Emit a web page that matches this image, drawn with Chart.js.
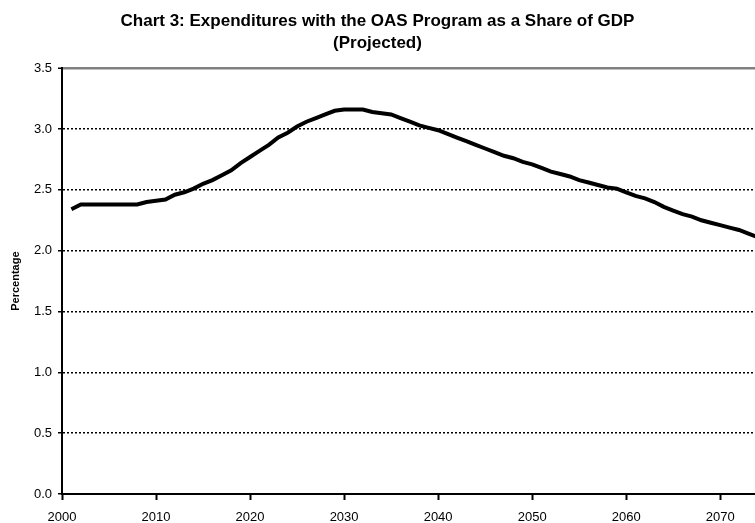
<!DOCTYPE html>
<html>
<head>
<meta charset="utf-8">
<script src="https://cdn.jsdelivr.net/npm/chart.js@4.4.1/dist/chart.umd.min.js"></script>
<style>
  html, body { margin: 0; padding: 0; background: #fff; }
  #wrap { width: 755px; height: 523px; }
</style>
</head>
<body>
<div id="wrap"><canvas id="grafico"></canvas></div>
<script>
// years and OAS expenditure as % of GDP
let anos = [2001, 2002, 2003, 2004, 2005, 2006, 2007, 2008, 2009, 2010,
  2011, 2012, 2013, 2014, 2015, 2016, 2017, 2018, 2019, 2020,
  2021, 2022, 2023, 2024, 2025, 2026, 2027, 2028, 2029, 2030,
  2031, 2032, 2033, 2034, 2035, 2036, 2037, 2038, 2039, 2040,
  2041, 2042, 2043, 2044, 2045, 2046, 2047, 2048, 2049, 2050,
  2051, 2052, 2053, 2054, 2055, 2056, 2057, 2058, 2059, 2060,
  2061, 2062, 2063, 2064, 2065, 2066, 2067, 2068, 2069, 2070,
  2071, 2072, 2073, 2074];
let percentual = [2.34, 2.38, 2.38, 2.38, 2.38, 2.38, 2.38, 2.38, 2.40, 2.41,
  2.42, 2.46, 2.48, 2.51, 2.55, 2.58, 2.62, 2.66, 2.72, 2.77,
  2.82, 2.87, 2.93, 2.97, 3.02, 3.06, 3.09, 3.12, 3.15, 3.16,
  3.16, 3.16, 3.14, 3.13, 3.12, 3.09, 3.06, 3.03, 3.01, 2.99,
  2.96, 2.93, 2.90, 2.87, 2.84, 2.81, 2.78, 2.76, 2.73, 2.71,
  2.68, 2.65, 2.63, 2.61, 2.58, 2.56, 2.54, 2.52, 2.51, 2.48,
  2.45, 2.43, 2.40, 2.36, 2.33, 2.30, 2.28, 2.25, 2.23, 2.21,
  2.19, 2.17, 2.14, 2.11];
let titulo = ["Chart 3: Expenditures with the OAS Program as a Share of GDP", "(Projected)"];
let tituloY = "Percentage";

let pontos = anos.map((a, i) => ({ x: a, y: percentual[i] }));

new Chart(document.getElementById("grafico"), {
  type: "line",
  data: {
    datasets: [{
      data: pontos,
      borderColor: "#000",
      borderWidth: 4,
      pointRadius: 0,
      tension: 0,
      fill: false
    }]
  },
  options: {
    responsive: true,
    maintainAspectRatio: false,
    animation: false,
    layout: { padding: { top: 0, right: 0, left: 0, bottom: 0 } },
    plugins: {
      legend: { display: false },
      tooltip: { enabled: false },
      title: {
        display: true,
        text: titulo,
        color: "#000",
        font: { family: "'Liberation Sans', Arial, sans-serif", size: 17, weight: "bold", lineHeight: 1.3 },
        padding: { top: 10, bottom: 14 }
      }
    },
    scales: {
      x: {
        type: "linear",
        min: 2000,
        max: 2073.7,
        afterFit: s => { s.height = 29; },
        ticks: {
          stepSize: 10,
          includeBounds: false,
          color: "#000",
          padding: 10,
          maxRotation: 0,
          font: { family: "'Liberation Sans', Arial, sans-serif", size: 13 },
          callback: v => String(v)
        },
        grid: { drawOnChartArea: false, tickColor: "#000", tickWidth: 2, tickLength: 6 },
        border: { color: "#000", width: 2 }
      },
      y: {
        min: 0,
        max: 3.5,
        afterFit: s => { s.width = 62; },
        ticks: {
          stepSize: 0.5,
          color: "#000",
          padding: 6,
          font: { family: "'Liberation Sans', Arial, sans-serif", size: 13 },
          callback: v => v.toFixed(1)
        },
        title: {
          display: true,
          text: tituloY,
          color: "#000",
          padding: { top: 9, bottom: 0 },
          font: { family: "'Liberation Sans', Arial, sans-serif", size: 11, weight: "bold" }
        },
        grid: {
          color: ctx => ctx.tick && ctx.tick.value === 3.5 ? "#808080" : (ctx.tick && ctx.tick.value === 0 ? "rgba(0,0,0,0)" : "#000"),
          lineWidth: ctx => ctx.tick && ctx.tick.value === 3.5 ? 2.5 : 1.5,
          tickColor: "#000",
          tickWidth: 1.5,
          tickLength: 4
        },
        border: {
          color: "#000",
          width: 2,
          dash: ctx => ctx.tick && ctx.tick.value !== 3.5 ? [2, 2] : []
        }
      }
    }
  }
});
</script>
</body>
</html>
